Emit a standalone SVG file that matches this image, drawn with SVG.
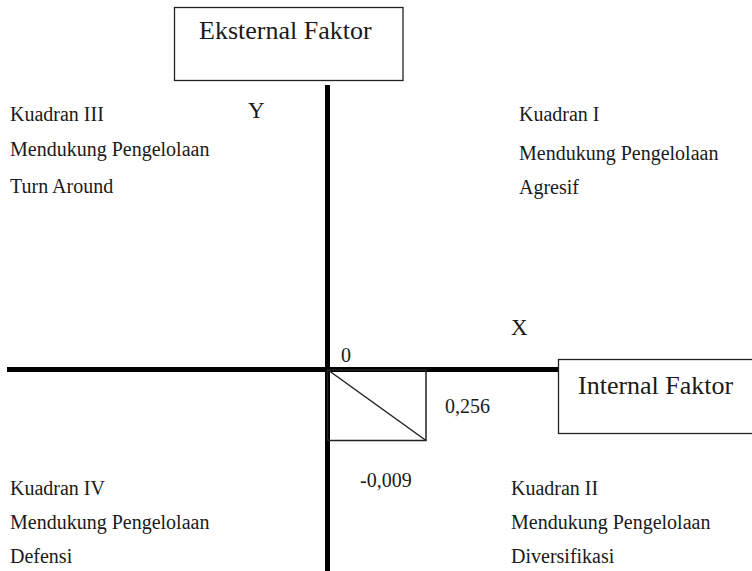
<svg xmlns="http://www.w3.org/2000/svg" width="752" height="571" viewBox="0 0 752 571">
<style>
text{font-family:'Liberation Serif','Times New Roman',serif;fill:#1a1a1a}
.q{font-size:20px}
.big{font-size:26px}
.ax{font-size:23px}
.box{fill:#fff;stroke:#222;stroke-width:1.3}
.axis{stroke:#000;stroke-width:5;fill:none}
.thin{stroke:#222;stroke-width:1.5;fill:none}
</style>
<rect width="752" height="571" fill="#fff"/>
<g id="connectors">
<line class="axis" x1="327.5" y1="85" x2="327.5" y2="571"/>
<line class="axis" x1="7" y1="369.5" x2="558" y2="369.5"/>
<rect class="thin" x="327.5" y="370" width="98.5" height="70.5"/>
<line class="thin" x1="328" y1="370" x2="426" y2="440.5"/>
</g>
<g id="eksternal">
<rect class="box" x="174.5" y="7.5" width="228.5" height="73"/>
<text class="big" x="199" y="39" font-family="Liberation Serif">Eksternal Faktor</text>
</g>
<g id="internal">
<rect class="box" x="558.5" y="359.5" width="200" height="74"/>
<text class="big" x="578" y="394" font-family="Liberation Serif">Internal Faktor</text>
</g>
<g id="axis-labels" font-family="Liberation Serif">
<text class="ax" x="248" y="118">Y</text>
<text class="ax" x="511" y="335">X</text>
<text class="q" x="341" y="362">0</text>
<text class="q" x="445" y="413">0,256</text>
<text class="q" x="360" y="487">-0,009</text>
</g>
<g id="kuadran3">
<text class="q" x="10" y="121">Kuadran III</text>
<text class="q" x="10" y="156">Mendukung Pengelolaan</text>
<text class="q" x="10" y="193">Turn Around</text>
</g>
<g id="kuadran1">
<text class="q" x="519" y="121">Kuadran I</text>
<text class="q" x="519" y="160">Mendukung Pengelolaan</text>
<text class="q" x="519" y="194">Agresif</text>
</g>
<g id="kuadran4">
<text class="q" x="10" y="495">Kuadran IV</text>
<text class="q" x="10" y="529">Mendukung Pengelolaan</text>
<text class="q" x="10" y="563">Defensi</text>
</g>
<g id="kuadran2">
<text class="q" x="511" y="495">Kuadran II</text>
<text class="q" x="511" y="529">Mendukung Pengelolaan</text>
<text class="q" x="511" y="563">Diversifikasi</text>
</g>
</svg>
